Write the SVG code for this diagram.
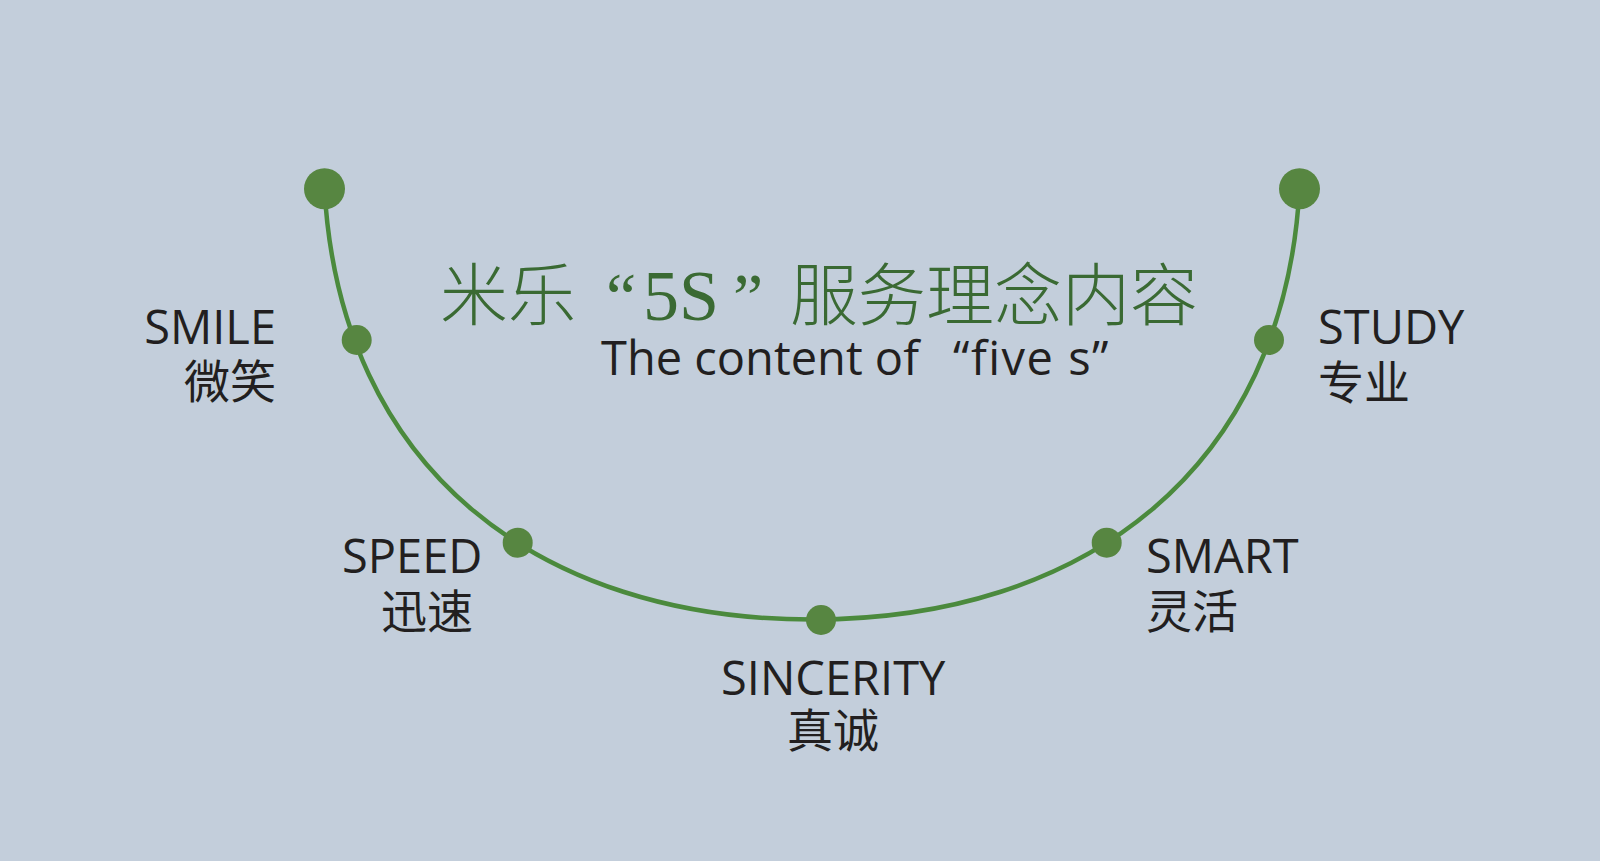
<svg xmlns="http://www.w3.org/2000/svg" width="1600" height="861" viewBox="0 0 1600 861">
<style>
.lbl{font-family:'Open Sans','Noto Sans CJK SC',sans-serif;font-size:47px;fill:#221f20}
.cjk{font-family:'Noto Sans CJK SC',sans-serif;font-size:46px;fill:#221f20}
.dot{fill:#578641}
.big{fill:#578641}
.curve{fill:none;stroke:#4b8a3d;stroke-width:4.5}
.ttl{font-family:'Noto Sans CJK SC',sans-serif;font-size:68px;font-weight:200;fill:#3a6a33}
.ser{font-family:'Liberation Serif','Noto Sans CJK SC',serif;font-weight:400}
</style>
<rect width="1600" height="861" fill="#c3cedb"/>
<g id="connectors">
<path class="curve" d="M324.5,188.8 C340,470 540,619.5 812,619.5 C1084,619.5 1284,470 1299.5,188.8"/>
</g>
<g id="title">
<text class="ttl" y="320"><tspan x="440">米乐</tspan><tspan class="ser" x="606">“</tspan><tspan class="ser" x="643" style="font-size:72px">5S</tspan><tspan class="ser" x="733">”</tspan><tspan x="790">服务理念内容</tspan></text>
<text class="lbl" y="374.5"><tspan x="601">The content of</tspan><tspan x="953" letter-spacing="1.5">“five s”</tspan></text>
</g>
<g id="end-left"><circle class="big" cx="324.5" cy="188.8" r="20.5"/></g>
<g id="end-right"><circle class="big" cx="1299.5" cy="188.8" r="20.5"/></g>
<g id="smile">
<circle class="dot" cx="356.7" cy="340" r="15"/>
<text class="lbl" x="276" y="344" text-anchor="end">SMILE</text>
<text class="cjk" x="276" y="398" text-anchor="end">微笑</text>
</g>
<g id="speed">
<circle class="dot" cx="517.7" cy="542.7" r="15"/>
<text class="lbl" x="342" y="573">SPEED</text>
<text class="cjk" x="381" y="628">迅速</text>
</g>
<g id="sincerity">
<circle class="dot" cx="821" cy="620" r="15"/>
<text class="lbl" x="721" y="695">SINCERITY</text>
<text class="cjk" x="787" y="747">真诚</text>
</g>
<g id="smart">
<circle class="dot" cx="1106.7" cy="542.7" r="15"/>
<text class="lbl" x="1146" y="573">SMART</text>
<text class="cjk" x="1146" y="628">灵活</text>
</g>
<g id="study">
<circle class="dot" cx="1269" cy="340" r="15"/>
<text class="lbl" x="1318" y="343.5">STUDY</text>
<text class="cjk" x="1318" y="398.5">专业</text>
</g>
</svg>
